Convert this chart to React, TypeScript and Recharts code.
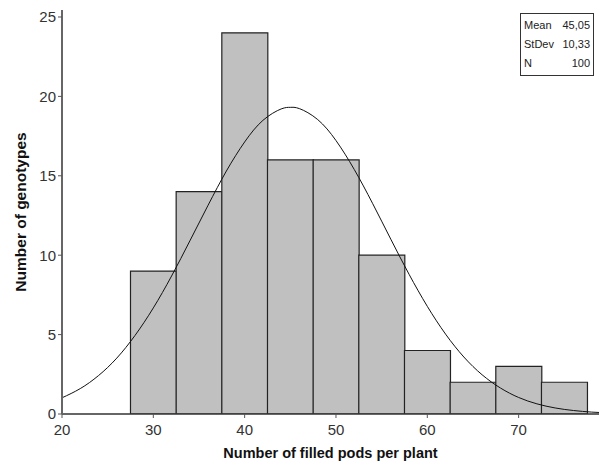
import React from "react";
import {
  ComposedChart,
  Bar,
  Line,
  XAxis,
  YAxis,
} from "recharts";

// histogram bins (bin centre, width 5)
const binCenters = [30, 35, 40, 45, 50, 55, 60, 65, 70, 75];
const binCounts = [9, 14, 24, 16, 16, 10, 4, 2, 3, 2];

// fitted normal curve
const curveX = [20, 22, 24, 26, 28, 30, 32, 34, 36, 38, 40, 42, 44, 45, 46, 48, 50, 52, 54, 56, 58, 60, 62, 64, 66, 68, 70, 72, 74, 76, 78, 80];
const curveY = [1.02, 1.6, 2.42, 3.52, 4.95, 6.68, 8.69, 10.9, 13.15, 15.3, 17.13, 18.49, 19.21, 19.31, 19.23, 18.54, 17.22, 15.4, 13.27, 11.01, 8.8, 6.78, 5.03, 3.59, 2.47, 1.64, 1.04, 0.64, 0.38, 0.22, 0.12, 0.06];

const xTicks = [20, 30, 40, 50, 60, 70];
const yTicks = [0, 5, 10, 15, 20, 25];

const stats = [
  ["Mean", "45,05"],
  ["StDev", "10,33"],
  ["N", "100"],
];

const FONT = "'Liberation Sans Narrow', 'Liberation Sans', Arial, sans-serif";
const X_DOMAIN: [number, number] = [20, 78.8];

const bins = binCenters.map((x, i) => ({ x, count: binCounts[i] }));
const curve = curveX.map((x, i) => ({ x, fit: curveY[i] }));

const tickStyle = { fontSize: 15, fill: "#333", fontFamily: FONT };

export default function App() {
  return (
    <div style={{ position: "absolute", left: 0, top: 0, width: 599, height: 464, background: "#fff" }}>
      <ComposedChart
        width={599}
        height={464}
        data={bins}
        barCategoryGap={0}
        margin={{ top: 10, right: 0, left: 0, bottom: 0 }}
      >
        <XAxis
          dataKey="x"
          type="number"
          domain={X_DOMAIN}
          allowDataOverflow
          ticks={xTicks}
          tick={{ ...tickStyle, dy: 4 }}
          tickSize={4}
          tickLine={{ stroke: "#555" }}
          axisLine={{ stroke: "#333", strokeWidth: 1.5 }}
          height={50}
          label={{
            value: "Number of filled pods per plant",
            position: "insideBottom",
            offset: 6,
            style: { fontSize: 14.5, fontWeight: "bold", fill: "#111", fontFamily: FONT },
          }}
        />
        <XAxis
          xAxisId="curve"
          dataKey="x"
          type="number"
          orientation="top"
          domain={X_DOMAIN}
          allowDataOverflow
          tick={false}
          tickLine={false}
          height={0}
          axisLine={{ stroke: "#555", strokeWidth: 2 }}
        />
        <YAxis
          type="number"
          domain={[0, 25.44]}
          allowDataOverflow
          ticks={yTicks}
          tick={tickStyle}
          tickSize={4}
          tickLine={{ stroke: "#555" }}
          axisLine={{ stroke: "#666", strokeWidth: 2 }}
          width={62}
          label={{
            value: "Number of genotypes",
            angle: -90,
            position: "insideLeft",
            dx: 15,
            style: { textAnchor: "middle", fontSize: 15.5, fontWeight: "bold", fill: "#111", fontFamily: FONT },
          }}
        />
        <Bar dataKey="count" fill="#c0c0c0" stroke="#222" strokeWidth={1.2} isAnimationActive={false} />
        <Line
          xAxisId="curve"
          data={curve}
          dataKey="fit"
          type="natural"
          stroke="#111"
          strokeWidth={1}
          dot={false}
          isAnimationActive={false}
        />
      </ComposedChart>
      <div
        style={{
          position: "absolute",
          left: 520,
          top: 13,
          width: 74,
          border: "1px solid #333",
          background: "#fff",
          fontFamily: FONT,
          fontSize: 11,
          color: "#222",
          padding: "2px 3px",
          boxSizing: "border-box",
          lineHeight: "19px",
        }}
      >
        {stats.map(([k, v]) => (
          <div key={k} style={{ display: "flex", justifyContent: "space-between" }}>
            <span>{k}</span>
            <span style={{ color: "#222" }}>{v}</span>
          </div>
        ))}
      </div>
    </div>
  );
}
